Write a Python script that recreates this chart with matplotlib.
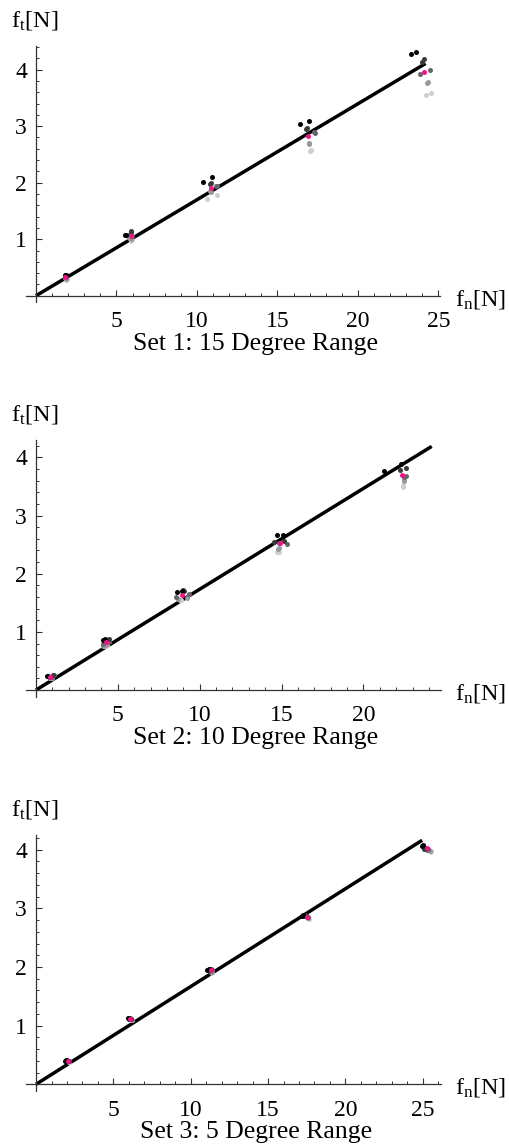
import matplotlib
matplotlib.use('Agg')
import matplotlib.pyplot as plt
from matplotlib.ticker import MultipleLocator, FixedLocator

plt.rcParams['font.family'] = ['Liberation Serif', 'DejaVu Serif']
plt.rcParams['mathtext.fontset'] = 'custom'
plt.rcParams['mathtext.rm'] = 'Liberation Serif'
plt.rcParams['mathtext.it'] = 'Liberation Serif:italic'

# ---------------- data: Set 1 (15 degree range) ----------------
set1_fn_black = [1.80, 1.85, 5.55, 5.60, 10.35, 10.93, 16.42, 16.94, 23.29, 23.62]
set1_ft_black = [0.36, 0.37, 1.07, 1.08, 2.02, 2.10, 3.04, 3.09, 4.27, 4.32]
set1_fn_dark = [1.82, 1.86, 5.90, 5.88, 10.85, 10.80, 16.77, 16.85, 24.12, 23.95]
set1_ft_dark = [0.35, 0.36, 1.14, 1.12, 2.00, 1.98, 2.95, 2.96, 4.18, 4.14]
set1_fn_mid = [1.80, 1.84, 5.85, 5.95, 11.26, 11.20, 17.31, 17.25, 23.83, 24.50]
set1_ft_mid = [0.33, 0.34, 1.09, 1.05, 1.95, 1.94, 2.88, 2.89, 3.93, 4.00]
set1_fn_light = [1.83, 1.88, 5.80, 5.90, 10.85, 10.82, 16.98, 16.95, 24.37, 24.30]
set1_ft_light = [0.31, 0.30, 1.02, 1.01, 1.83, 1.85, 2.70, 2.69, 3.79, 3.76]
set1_fn_pale = [1.86, 1.90, 5.90, 5.95, 10.60, 11.26, 17.06, 17.03, 24.22, 24.55]
set1_ft_pale = [0.28, 0.29, 0.97, 0.98, 1.71, 1.79, 2.57, 2.56, 3.55, 3.59]
set1_fn_mean = [1.82, 5.88, 10.87, 16.91, 24.10]
set1_ft_mean = [0.33, 1.06, 1.91, 2.83, 3.95]
set1_fit_fn = [0.0, 24.2]
set1_fit_ft = [0.0, 4.11]

# ---------------- data: Set 2 (10 degree range) ----------------
set2_fn_black = [0.65, 0.75, 4.11, 4.20, 8.59, 8.90, 14.74, 15.07, 21.26, 22.28]
set2_ft_black = [0.24, 0.24, 0.86, 0.87, 1.68, 1.71, 2.66, 2.67, 3.77, 3.89]
set2_fn_dark = [1.05, 0.80, 4.48, 4.30, 9.04, 9.00, 14.56, 15.15, 22.24, 22.60]
set2_ft_dark = [0.25, 0.23, 0.87, 0.85, 1.70, 1.72, 2.55, 2.57, 3.78, 3.81]
set2_fn_mid = [1.10, 0.95, 4.07, 4.45, 8.55, 9.37, 15.35, 14.84, 22.60, 22.50]
set2_ft_mid = [0.25, 0.22, 0.80, 0.83, 1.60, 1.66, 2.51, 2.52, 3.68, 3.66]
set2_fn_light = [0.90, 1.00, 4.07, 4.25, 9.20, 8.70, 14.86, 14.80, 22.50, 22.45]
set2_ft_light = [0.21, 0.22, 0.76, 0.78, 1.59, 1.57, 2.45, 2.43, 3.62, 3.60]
set2_fn_pale = [0.85, 1.00, 4.36, 4.20, 8.80, 8.85, 14.70, 14.82, 22.44, 22.42]
set2_ft_pale = [0.20, 0.21, 0.77, 0.76, 1.55, 1.54, 2.37, 2.37, 3.52, 3.50]
set2_fn_mean = [0.88, 4.28, 8.92, 14.90, 22.34]
set2_ft_mean = [0.22, 0.82, 1.64, 2.52, 3.69]
set2_fit_fn = [0.0, 24.17]
set2_fit_ft = [0.0, 4.19]

# ---------------- data: Set 3 (5 degree range) ----------------
set3_fn_black = [1.88, 1.95, 5.95, 6.00, 11.07, 11.15, 17.17, 17.25, 24.95, 25.00]
set3_ft_black = [0.40, 0.41, 1.13, 1.12, 1.95, 1.96, 2.87, 2.88, 4.07, 4.08]
set3_fn_dark = [2.00, 2.10, 6.05, 6.15, 11.20, 11.30, 17.35, 17.45, 25.08, 25.15]
set3_ft_dark = [0.41, 0.40, 1.13, 1.12, 1.95, 1.96, 2.87, 2.88, 4.01, 4.03]
set3_fn_mid = [2.05, 2.10, 6.10, 6.15, 11.25, 11.35, 17.50, 17.55, 25.30, 25.35]
set3_ft_mid = [0.40, 0.39, 1.11, 1.11, 1.93, 1.94, 2.85, 2.86, 4.00, 4.01]
set3_fn_light = [2.08, 2.12, 6.12, 6.18, 11.30, 11.35, 17.55, 17.60, 25.40, 25.45]
set3_ft_light = [0.39, 0.40, 1.11, 1.10, 1.92, 1.91, 2.84, 2.83, 3.99, 3.98]
set3_fn_pale = [2.10, 2.15, 6.15, 6.20, 11.35, 11.40, 17.60, 17.65, 25.51, 25.55]
set3_ft_pale = [0.39, 0.38, 1.10, 1.10, 1.91, 1.90, 2.83, 2.82, 3.97, 3.96]
set3_fn_mean = [2.05, 6.10, 11.29, 17.50, 25.29]
set3_ft_mean = [0.40, 1.12, 1.94, 2.86, 4.02]
set3_fit_fn = [0.0, 24.96]
set3_fit_ft = [0.0, 4.16]

titles = ["Set 1: 15 Degree Range", "Set 2: 10 Degree Range", "Set 3: 5 Degree Range"]
x_major_ticks = [[5, 10, 15, 20, 25], [5, 10, 15, 20], [5, 10, 15, 20, 25]]
y_major_ticks = [1, 2, 3, 4]

gray_colors = ['#000000', '#3a3a3a', '#666666', '#999999', '#cfcfcf']
mean_color = '#f0148c'

W, H = 510, 1147
fig = plt.figure(figsize=(W / 100, H / 100), dpi=100)


def fig_box(x0, x1, ytop, ybot):
    return [x0 / W, 1 - ybot / H, (x1 - x0) / W, (ybot - ytop) / H]


def fpt(x, y):
    return (x / W, 1 - y / H)


panels = [
    dict(box=fig_box(26.3, 440.1, 46.5, 302.5), xlim=(-0.6, 25.1), ylim=(-0.12, 4.41),
         axis_y=295.7, top_y=46.5,
         gray=[(set1_fn_black, set1_ft_black), (set1_fn_dark, set1_ft_dark),
               (set1_fn_mid, set1_ft_mid), (set1_fn_light, set1_ft_light),
               (set1_fn_pale, set1_ft_pale)],
         mean=(set1_fn_mean, set1_ft_mean), fit=(set1_fit_fn, set1_fit_ft)),
    dict(box=fig_box(26.0, 440.7, 440.0, 697.0), xlim=(-0.61, 24.72), ylim=(-0.12, 4.30),
         axis_y=690.0, top_y=440.0,
         gray=[(set2_fn_black, set2_ft_black), (set2_fn_dark, set2_ft_dark),
               (set2_fn_mid, set2_ft_mid), (set2_fn_light, set2_ft_light),
               (set2_fn_pale, set2_ft_pale)],
         mean=(set2_fn_mean, set2_ft_mean), fit=(set2_fit_fn, set2_fit_ft)),
    dict(box=fig_box(26.0, 440.7, 835.0, 1091.3), xlim=(-0.65, 26.16), ylim=(-0.12, 4.25),
         axis_y=1084.3, top_y=835.0,
         gray=[(set3_fn_black, set3_ft_black), (set3_fn_dark, set3_ft_dark),
               (set3_fn_mid, set3_ft_mid), (set3_fn_light, set3_ft_light),
               (set3_fn_pale, set3_ft_pale)],
         mean=(set3_fn_mean, set3_ft_mean), fit=(set3_fit_fn, set3_fit_ft)),
]

for i, p in enumerate(panels):
    ax = fig.add_axes(p['box'])
    ax.set_xlim(*p['xlim'])
    ax.set_ylim(*p['ylim'])
    ax.patch.set_alpha(0)
    for s in ['top', 'right']:
        ax.spines[s].set_visible(False)
    for s in ['left', 'bottom']:
        ax.spines[s].set_position(('data', 0))
        ax.spines[s].set_color('#333333')
        ax.spines[s].set_linewidth(0.9)
    ax.xaxis.set_major_locator(FixedLocator(x_major_ticks[i]))
    ax.xaxis.set_minor_locator(MultipleLocator(1))
    ax.yaxis.set_major_locator(FixedLocator(y_major_ticks))
    ax.yaxis.set_minor_locator(MultipleLocator(0.2))
    ax.tick_params(which='major', direction='in', length=4, width=0.8, color='#333333',
                   labelsize=17)
    ax.tick_params(which='minor', direction='in', length=2.3, width=0.7, color='#333333')
    ax.tick_params(axis='x', which='major', pad=11)
    ax.tick_params(axis='y', which='major', pad=6.5)

    ax.plot(p['fit'][0], p['fit'][1], color='black', lw=2.5, solid_capstyle='butt', zorder=2)
    # draw lighter first so darker dots sit on top
    for (fx, fy), c in reversed(list(zip(p['gray'], gray_colors))):
        ax.scatter(fx, fy, s=13, color=c, linewidths=0, zorder=3)
    ax.scatter(p['mean'][0], p['mean'][1], s=13, color=mean_color, linewidths=0, zorder=4)

    # axis labels
    fig.text(*fpt(11, p['top_y'] - 19.5), r'f$_\mathrm{t}$[N]', fontsize=17.5,
             ha='left', va='baseline')
    fig.text(*fpt(455, p['axis_y'] + 9.5), r'f$_\mathrm{n}$[N]', fontsize=17.5,
             ha='left', va='baseline')
    fig.text(*fpt(256, p['axis_y'] + 54), titles[i], fontsize=18.5,
             ha='center', va='baseline')

fig.savefig('out.png', dpi=100)
